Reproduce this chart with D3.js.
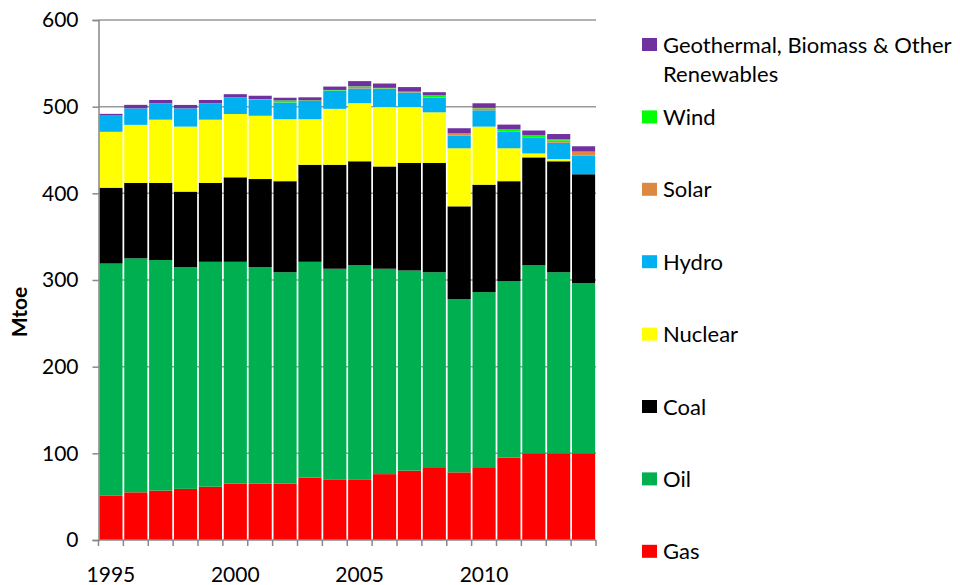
<!DOCTYPE html>
<meta charset="utf-8" />
<style>
  body { margin: 0; background: #fff; }
  text { font-family: Lato, "Open Sans", sans-serif; fill: #000; }
</style>
<svg width="960" height="585"></svg>
<script src="https://d3js.org/d3.v7.min.js"></script>
<script>
    // years and Mtoe per source
    var years = [1995, 1996, 1997, 1998, 1999, 2000, 2001, 2002, 2003, 2004,
        2005, 2006, 2007, 2008, 2009, 2010, 2011, 2012, 2013, 2014];

    var gas = [51, 55, 57, 59, 61.5, 65, 65, 65, 72, 70, 70, 76, 80, 84, 78, 84, 95, 100, 100, 100];
    var oil = [268, 270, 266, 256, 259.5, 256, 250, 244, 249, 243, 247, 237, 231, 225, 200, 202, 203.5, 217, 209, 196.5];
    var coal = [87.5, 87, 89, 87, 91, 97.5, 101.5, 105, 112, 120, 120, 118, 124, 126, 107, 124, 115.5, 124.5, 128, 125.5];
    var nuclear = [64.5, 67, 73, 75, 73, 73, 73, 71.5, 52.5, 64.5, 67, 68.5, 64.5, 58.5, 67, 67, 38, 4.5, 2.5, 0];
    var hydro = [18.6, 19, 18.8, 21, 18.8, 18.9, 18.9, 19.2, 21.1, 21.1, 17, 21.2, 16.9, 16.9, 14.6, 18.8, 18.9, 18, 18.9, 21.7];
    var solar = [0.1, 0.1, 0.1, 0.1, 0.1, 0.2, 0.2, 0.2, 0.2, 0.2, 2, 0.5, 0.5, 0.5, 2, 2.3, 0.5, 1, 2.3, 4];
    var wind = [0, 0, 0, 0, 0, 0, 0.2, 2.3, 0.5, 0.5, 0.5, 0.5, 0.5, 2.3, 0.5, 0.5, 2.7, 2, 2, 0.5];
    var other = [2, 4, 3.8, 3.9, 3.8, 3.8, 3.8, 3.1, 3.5, 3.9, 6, 5, 5.2, 3.5, 6, 5.3, 5.2, 5.5, 5.7, 6.1];

    var yTicks = [0, 100, 200, 300, 400, 500, 600];
    var xLabels = [1995, 2000, 2005, 2010];

    var series = [
        { key: "gas", name: "Gas", color: "#ff0000", values: gas },
        { key: "oil", name: "Oil", color: "#00b050", values: oil },
        { key: "coal", name: "Coal", color: "#000000", values: coal },
        { key: "nuclear", name: "Nuclear", color: "#ffff00", values: nuclear },
        { key: "hydro", name: "Hydro", color: "#00b0f0", values: hydro },
        { key: "solar", name: "Solar", color: "#dd8841", values: solar },
        { key: "wind", name: "Wind", color: "#00ff00", values: wind },
        { key: "other", name: "Geothermal, Biomass & Other|Renewables", color: "#7030a0", values: other }
    ];

    var svg = d3.select("svg");

    // table for d3.stack
    var table = years.map(function (y, i) {
        var row = { year: y };
        series.forEach(function (s) { row[s.key] = s.values[i]; });
        return row;
    });

    var x = d3.scaleBand()
        .domain(years)
        .range([98.5, 596])
        .paddingInner(0.07)
        .paddingOuter(0.035);

    var y = d3.scaleLinear().domain([0, 600]).range([540, 20]);

    // gridlines (behind bars)
    svg.append("g")
        .selectAll("line")
        .data(yTicks.filter(d => d > 0))
        .enter()
        .append("line")
        .attr("x1", 98.5)
        .attr("x2", 596)
        .attr("y1", d => y(d))
        .attr("y2", d => y(d))
        .attr("stroke", "#999")
        .attr("stroke-width", 1.5);

    var stack = d3.stack().keys(series.map(s => s.key));
    var layers = stack(table);

    svg.append("g")
        .selectAll("g")
        .data(layers)
        .enter()
        .append("g")
        .attr("fill", (d, i) => series[i].color)
        .selectAll("rect")
        .data(d => d)
        .enter()
        .append("rect")
        .attr("x", d => x(d.data.year))
        .attr("width", x.bandwidth())
        .attr("y", d => y(d[1]))
        .attr("height", d => y(d[0]) - y(d[1]));

    // y axis
    var yAxis = svg.append("g")
        .attr("transform", "translate(98.5,0)")
        .call(d3.axisLeft(y).tickValues(yTicks).tickSize(6).tickPadding(14).tickFormat(d3.format("d")));
    yAxis.select(".domain").attr("stroke", "#888").attr("stroke-width", 1.5);
    yAxis.selectAll(".tick line").attr("stroke", "#888").attr("stroke-width", 1.5);
    yAxis.selectAll(".tick text")
        .style("font-family", "Lato, 'Open Sans', sans-serif")
        .style("font-size", "21px")
        .attr("fill", "#000");

    // x axis: ticks on the band edges, labels every 5 years
    var edges = years.map(yr => x(yr) - x.step() * x.paddingInner() / 2);
    edges.push(x(years[years.length - 1]) + x.bandwidth() + x.step() * x.paddingInner() / 2);

    var xg = svg.append("g");
    xg.append("line")
        .attr("x1", 98.5).attr("x2", 596)
        .attr("y1", 540).attr("y2", 540)
        .attr("stroke", "#888").attr("stroke-width", 1.5);
    xg.selectAll("line.tk")
        .data(edges)
        .enter()
        .append("line")
        .attr("class", "tk")
        .attr("x1", d => d).attr("x2", d => d)
        .attr("y1", 540).attr("y2", 546)
        .attr("stroke", "#888").attr("stroke-width", 1.5);
    xg.selectAll("text")
        .data(xLabels)
        .enter()
        .append("text")
        .attr("x", d => x(d) + x.bandwidth() / 2)
        .attr("y", 582)
        .attr("text-anchor", "middle")
        .style("font-size", "21px")
        .text(d => d);

    // y title
    svg.append("text")
        .attr("transform", "translate(27,312) rotate(-90)")
        .attr("text-anchor", "middle")
        .style("font-size", "21px")
        .style("font-weight", "bold")
        .text("Mtoe");

    // legend, top item first
    var legendItems = series.slice().reverse();
    var legend = svg.append("g")
        .selectAll("g")
        .data(legendItems)
        .enter()
        .append("g")
        .attr("transform", (d, i) => "translate(642," + (44.5 + 72.4 * i) + ")");

    legend.append("rect")
        .attr("x", 0)
        .attr("y", -6.5)
        .attr("width", 15)
        .attr("height", 13)
        .attr("fill", d => d.color);

    legend.append("text")
        .attr("x", 21)
        .attr("y", 8)
        .style("font-size", "22px")
        .each(function (d) {
            var parts = d.name.split("|");
            var t = d3.select(this);
            parts.forEach(function (p, j) {
                t.append("tspan")
                    .attr("x", 21)
                    .attr("dy", j === 0 ? 0 : 29.4)
                    .text(p);
            });
        });
</script>
